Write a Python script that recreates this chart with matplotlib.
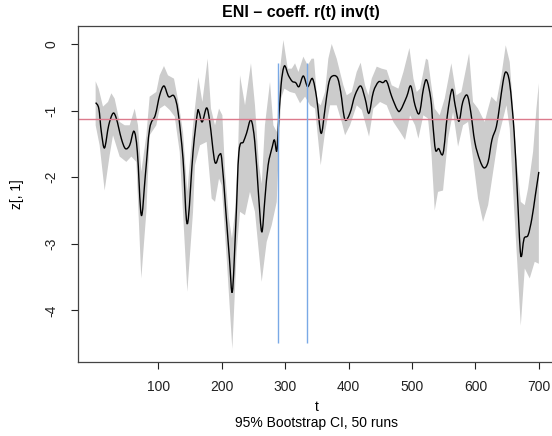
import numpy as np
import matplotlib
matplotlib.use("Agg")
import matplotlib.pyplot as plt
from matplotlib.path import Path
from matplotlib.patches import PathPatch

plt.rcParams['font.family'] = ['Liberation Sans', 'DejaVu Sans']

# central estimate z[,1]
t_mid = [1, 6, 10, 15, 21.6, 28.4, 33.7, 41.5, 47.9, 54.7, 61.5, 66.8, 73, 79.4, 86.2, 95,
         102, 108.8, 116, 124.6, 131, 138.8, 145.6, 154.6, 161.4, 164, 169, 176, 181, 189,
         195.6, 199.8, 206, 212, 216.6, 222, 227, 234, 239, 246, 252, 257.6, 263, 268, 273,
         279.7, 283, 286.6, 289, 293.4, 298.6, 305, 311, 316.5, 321.7, 328.5, 335.4, 343,
         349.7, 356.5, 362.8, 368, 373, 382, 387.5, 394, 402, 410, 419, 426, 432, 439, 447,
         454, 460, 468, 477, 482, 491.6, 498, 504.7, 511.5, 518, 523, 529.5, 533, 537, 542,
         549, 555.7, 563, 568, 574, 580, 587, 592.6, 599, 606.8, 613.6, 620, 626, 633, 638,
         643.5, 648, 654, 661, 666, 671.4, 676.7, 683, 689, 694.5, 700]
z_mid = [-0.88, -0.97, -1.32, -1.56, -1.22, -1.04, -1.12, -1.42, -1.57, -1.52, -1.31, -1.62,
         -2.57, -1.97, -1.27, -1.07, -0.77, -0.63, -0.79, -0.78, -1.02, -1.72, -2.70, -1.62,
         -1.04, -1.02, -1.17, -0.96, -1.17, -1.77, -1.67, -1.72, -2.47, -3.22, -3.72, -2.72,
         -1.62, -1.47, -1.34, -1.14, -1.47, -2.22, -2.82, -2.32, -1.82, -1.54, -1.44, -1.61,
         -1.27, -0.62, -0.33, -0.47, -0.56, -0.58, -0.64, -0.48, -0.64, -0.52, -0.82, -1.34,
         -0.97, -0.62, -0.49, -0.50, -0.72, -1.13, -1.04, -0.77, -0.63, -0.82, -1.04, -0.72,
         -0.57, -0.58, -0.56, -0.79, -0.99, -0.99, -0.79, -0.63, -0.92, -1.04, -0.67, -0.54,
         -0.82, -1.22, -1.59, -1.57, -1.64, -1.07, -0.68, -0.92, -1.16, -0.87, -0.77, -1.02,
         -1.47, -1.74, -1.86, -1.77, -1.44, -1.24, -0.94, -0.57, -0.42, -0.59, -1.32, -2.22,
         -3.17, -2.92, -2.87, -2.62, -2.27, -1.92]

# upper bound of the 95% bootstrap band
t_hi = [1, 5.8, 12.6, 20.5, 25.8, 31, 38.9, 46.8, 54.7, 62.6, 67.8, 73, 81, 86.2, 96.7, 102,
        108.8, 115.1, 124.6, 131, 138.8, 145.6, 154.6, 163, 169.3, 177.7, 182.9, 189.3,
        195.6, 200.9, 205, 211, 216, 221, 226, 228.7, 236.6, 246, 252.3, 258.6, 263, 268,
        276, 281.3, 286.6, 291.8, 297.1, 304, 310.3, 315.5, 320.8, 328.6, 335.4, 341.7,
        345.4, 350.7, 356, 362.8, 368, 373.3, 381.2, 386.4, 391.7, 397, 404.9, 412.7, 419,
        425.9, 431.2, 436.4, 444.3, 452.2, 460.1, 468, 478.5, 486.4, 495.9, 502.2, 507.4,
        512.7, 522, 525.2, 530.5, 535.8, 543.6, 551.5, 562, 570, 577.8, 590, 596.2, 604.1,
        614.6, 620, 625.2, 633.1, 641, 647.8, 654.1, 659.4, 664.6, 671.5, 677.8, 683, 690.9,
        696.2, 700]
z_hi = [-0.56, -0.67, -0.94, -0.87, -0.74, -0.82, -1.17, -1.22, -1.22, -0.97, -1.22, -1.92,
        -1.37, -0.79, -0.72, -0.47, -0.33, -0.47, -0.52, -0.84, -1.32, -2.22, -1.22, -0.50,
        -0.87, -0.22, -0.97, -1.22, -0.97, -1.07, -1.90, -2.60, -2.92, -2.50, -1.50, -0.47,
        -0.92, -0.29, -0.92, -1.82, -2.10, -1.22, -0.57, -1.22, -1.32, -0.37, 0.06, -0.37,
        -0.37, -0.29, -0.42, -0.19, -0.32, -0.22, -0.22, -0.87, -0.92, -0.72, -0.22, 0.0,
        -0.22, -0.42, -0.62, -0.77, -0.72, -0.42, -0.28, -0.62, -0.77, -0.52, -0.34, -0.37,
        -0.39, -0.62, -0.67, -0.42, -0.06, -0.52, -0.72, -0.67, -0.22, -0.24, -0.62, -0.97,
        -1.07, -0.82, -0.29, -0.77, -0.72, -0.14, -0.87, -0.97, -1.17, -0.97, -0.79, -0.87,
        -0.47, -0.02, -0.27, -0.97, -1.72, -2.37, -2.42, -2.17, -1.62, -0.97, -0.59]

# lower bound of the 95% bootstrap band
t_lo = [1, 7.3, 15.2, 23.1, 28.4, 38.9, 49.4, 57.3, 65.2, 73, 81, 86.2, 96.7, 102, 109.9,
        117.8, 125.7, 133.6, 145.6, 154.6, 157.7, 165.6, 176.1, 184, 189.3, 195.6, 199.8,
        207.7, 216.6, 223.4, 228.7, 236.6, 244.4, 252.3, 262.9, 270.8, 278.7, 286.6, 289.3,
        293.4, 298.7, 307.6, 315.5, 323.4, 331.3, 339.2, 347, 356, 362.8, 370.7, 381.2,
        389.1, 394.4, 402.3, 412.8, 420.7, 425.9, 432.2, 439, 449.6, 460.1, 470.6, 481.1,
        489, 496.9, 504.8, 510, 517.9, 525.2, 530.5, 535.8, 541, 548.9, 556.8, 564.7, 572.6,
        580.5, 588.4, 596.2, 604.1, 612, 620, 627.9, 635.8, 643.7, 648.9, 654.1, 661, 666.2,
        671.5, 677.8, 685.6, 693.5, 700]
z_lo = [-1.22, -1.52, -2.20, -1.67, -1.37, -1.69, -1.77, -1.69, -1.77, -3.52, -2.52, -1.37,
        -1.22, -0.97, -0.92, -0.99, -1.09, -1.62, -3.72, -2.52, -1.82, -1.52, -1.47, -2.32,
        -2.37, -2.02, -2.12, -3.22, -4.58, -3.12, -2.52, -2.57, -2.22, -2.52, -3.57, -2.97,
        -2.72, -2.37, -1.72, -0.82, -0.67, -0.72, -0.74, -0.89, -0.79, -0.92, -0.97, -1.82,
        -1.32, -0.92, -0.92, -1.17, -1.37, -1.22, -0.92, -0.99, -1.17, -1.39, -0.97, -0.87,
        -0.92, -1.17, -1.32, -1.44, -1.07, -1.22, -1.42, -1.07, -1.12, -1.62, -2.50, -2.22,
        -2.20, -1.42, -1.02, -1.54, -1.22, -1.17, -1.72, -2.32, -2.67, -2.42, -1.92, -1.42,
        -1.12, -0.92, -1.27, -2.47, -3.32, -4.23, -3.37, -3.52, -3.27, -3.30]

ref_level = -1.13            # red horizontal line
breaks = [289, 335]          # blue vertical lines
break_lo, break_hi = -4.49, -0.28


def curve_through(x, y):
    # smooth path through the read points (Catmull-Rom as cubic Bezier)
    p = np.column_stack([x, y]).astype(float)
    n = len(p)
    verts = [p[0]]
    codes = [Path.MOVETO]
    for i in range(n - 1):
        p0 = p[max(i - 1, 0)]
        p1 = p[i]
        p2 = p[i + 1]
        p3 = p[min(i + 2, n - 1)]
        verts += [p1 + (p2 - p0) / 6, p2 - (p3 - p1) / 6, p2]
        codes += [Path.CURVE4] * 3
    return Path(verts, codes)


fig = plt.figure(figsize=(5.52, 4.36), dpi=100)
ax = fig.add_axes([77.7 / 552, (436 - 361.7) / 436, (556.6 - 77.7) / 552, (361.7 - 25.7) / 436])

ax.fill(np.r_[t_hi, t_lo[::-1]], np.r_[z_hi, z_lo[::-1]], color='#cccccc', lw=0)
ax.add_patch(PathPatch(curve_through(t_mid, z_mid), fill=False, edgecolor='black', lw=1.0))
ax.axhline(ref_level, color='#dc7a8c', lw=1.0)
ax.vlines(breaks, break_lo, break_hi, color='#7aa9e6', lw=1.0)

ax.set_xlim(-27.3, 728)
ax.set_ylim(-4.77, 0.275)
ax.set_xticks([100, 200, 300, 400, 500, 600, 700])
ax.set_yticks([0, -1, -2, -3, -4])
ax.set_yticklabels(['0', '-1', '-2', '-3', '-4'], rotation=90, va='center')
ax.tick_params(direction='out', length=5, width=0.8, labelsize=10, colors='#222222')
ax.tick_params(axis='x', pad=8)
ax.tick_params(axis='y', pad=9)
for s in ax.spines.values():
    s.set_linewidth(0.9)
    s.set_color('#444444')
ax.spines['right'].set_visible(False)

fig.text(300.5 / 552, 1 - 13 / 436, 'ENI – coeff. r(t) inv(t)', ha='center', va='center',
         fontsize=11.5, fontweight='bold')
fig.text(316.7 / 552, 1 - 406.7 / 436, 't', ha='center', va='center', fontsize=10)
fig.text(316.7 / 552, 1 - 423.3 / 436, '95% Bootstrap CI, 50 runs', ha='center', va='center',
         fontsize=10)
fig.text(17 / 552, 1 - 193.7 / 436, 'z[, 1]', ha='center', va='center', rotation=90, fontsize=10)

fig.savefig('out.png', dpi=100)
